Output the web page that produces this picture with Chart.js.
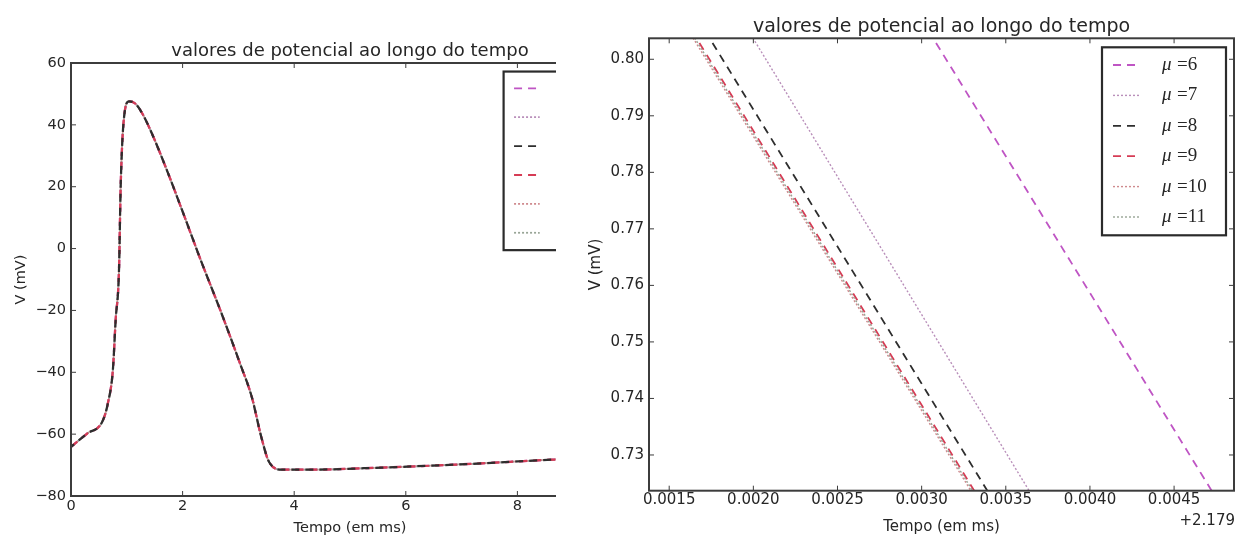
<!DOCTYPE html>
<html>
<head>
<meta charset="utf-8">
<script src="https://cdn.jsdelivr.net/npm/chart.js@4.4.1/dist/chart.umd.min.js"></script>
<style>
  html, body { margin: 0; padding: 0; background: #fff; }
  #wrap { position: relative; width: 1236px; height: 538px; overflow: hidden; }
  #leftClip { position: absolute; left: 0; top: 0; width: 556px; height: 538px; overflow: hidden; }
  #zoom { position: absolute; left: 556px; top: 0; }
</style>
</head>
<body>
<div id="wrap">
  <div id="leftClip"><canvas id="run" width="700" height="538"></canvas></div>
  <canvas id="zoom" width="680" height="538"></canvas>
</div>
<script>
(() => {
  'use strict'

  const muValues = [6, 7, 8, 9, 10, 11]
  const muColors = ['#bf55c4', '#b98fba', '#2e2e2e', '#d63c55', '#cf8a8e', '#97a495']
  const muDashes = [[8, 6], [2, 2], [8, 6], [8, 6], [2, 2], [2, 2]]
  const muWidths = [1.8, 1.4, 1.8, 1.8, 1.4, 1.4]

  // whole run (left panel): the six curves sit on top of each other
  const runTime = [0, 0.29, 0.56, 0.66, 0.75, 0.80, 0.86, 0.89, 0.94, 1.04, 1.15, 1.28, 1.45, 1.73, 2.07, 2.32, 2.69, 3.03, 3.24, 3.41, 3.55, 3.79, 4.2, 5.58, 6.95, 8.67, 10]
  const runVolt = [-64.1, -59.8, -56, -50.1, -39.3, -23.2, -7, 19.9, 40.4, 47.6, 46.9, 43.6, 37.2, 24.8, 8.6, -3.5, -20.6, -37.2, -48, -60.9, -69, -71.5, -71.5, -70.8, -69.8, -68.2, -67.3]
  const runXTicks = [0, 2, 4, 6, 8, 10]
  const runYTicks = [-80, -60, -40, -20, 0, 20, 40, 60]

  // zoom around t = 2.179 ms (right panel), times are offsets from it
  const timeOffset = 2.179
  const zoomVolt = [0.805, 0.722]
  const mu6Time = [0.003042, 0.004758]
  const mu7Time = [0.001972, 0.003673]
  const mu8Time = [0.001714, 0.003425]
  const mu9Time = [0.001636, 0.003347]
  const mu10Time = [0.001616, 0.003327]
  const mu11Time = [0.001626, 0.003337]
  const zoomXTicks = [0.0015, 0.002, 0.0025, 0.003, 0.0035, 0.004, 0.0045]
  const zoomYTicks = [0.73, 0.74, 0.75, 0.76, 0.77, 0.78, 0.79, 0.80]

  const titleText = 'valores de potencial ao longo do tempo'
  const ink = '#262626'

  Chart.defaults.font.family = '"DejaVu Sans", sans-serif'
  Chart.defaults.color = ink

  const frame = {
    id: 'frame',
    afterDatasetsDraw (chart) {
      const { ctx, chartArea: a, scales } = chart
      ctx.save()
      ctx.strokeStyle = '#3c3c3c'
      ctx.lineWidth = 1
      ctx.beginPath()
      scales.x.ticks.forEach(t => {
        const px = scales.x.getPixelForValue(t.value)
        ctx.moveTo(px, a.bottom); ctx.lineTo(px, a.bottom - 5)
        ctx.moveTo(px, a.top); ctx.lineTo(px, a.top + 5)
      })
      scales.y.ticks.forEach(t => {
        const py = scales.y.getPixelForValue(t.value)
        ctx.moveTo(a.left, py); ctx.lineTo(a.left + 5, py)
        ctx.moveTo(a.right, py); ctx.lineTo(a.right - 5, py)
      })
      ctx.stroke()
      ctx.lineWidth = 2
      ctx.strokeRect(a.left, a.top, a.right - a.left, a.bottom - a.top)
      ctx.restore()
    }
  }

  // matplotlib-like legend box in the upper right corner of the plot
  const boxLegend = {
    id: 'boxLegend',
    afterDraw (chart, args, opts) {
      const { ctx, chartArea: a } = chart
      const s = opts.scale
      const w = 124 * s
      const h = 188 * s
      const left = a.right - 8 * s - w
      const top = a.top + 9 * s
      ctx.save()
      ctx.fillStyle = '#fff'
      ctx.fillRect(left, top, w, h)
      ctx.lineWidth = 2.2
      ctx.strokeStyle = '#2b2b2b'
      ctx.strokeRect(left, top, w, h)
      chart.data.datasets.forEach((ds, i) => {
        const y = top + (17.7 + i * 30.4) * s
        ctx.setLineDash(ds.borderDash)
        ctx.strokeStyle = ds.borderColor
        ctx.lineWidth = Math.min(ds.borderWidth, 1.8)
        ctx.beginPath()
        ctx.moveTo(left + 11 * s, y)
        ctx.lineTo(left + 38 * s, y)
        ctx.stroke()
        ctx.setLineDash([])
        ctx.fillStyle = ink
        ctx.textBaseline = 'middle'
        ctx.textAlign = 'left'
        const sym = ds.label.charAt(0)
        const rest = ds.label.slice(1).trim()
        ctx.font = 'italic ' + (19 * s) + 'px "Liberation Serif"'
        ctx.fillText(sym, left + 60 * s, y)
        ctx.font = (19 * s) + 'px "Liberation Serif"'
        ctx.fillText(rest, left + 75 * s, y)
      })
      ctx.restore()
    }
  }

  const offsetText = {
    id: 'offsetText',
    afterDraw (chart, args, opts) {
      if (!opts.text) return
      const { ctx, chartArea: a } = chart
      ctx.save()
      ctx.fillStyle = ink
      ctx.font = '15px "DejaVu Sans"'
      ctx.textAlign = 'right'
      ctx.textBaseline = 'middle'
      ctx.fillText(opts.text, a.right + 1, a.bottom + 30)
      ctx.restore()
    }
  }

  function datasets (times, volts, cfg) {
    return muValues.map((mu, i) => ({
      label: '\u03bc =' + mu,
      data: times[i].map((t, k) => ({ x: t, y: volts[i][k] })),
      borderColor: muColors[i],
      borderDash: muDashes[i],
      borderDashOffset: cfg.dashOffsets[i],
      borderWidth: muWidths[i] * cfg.widthScale,
      pointRadius: 0,
      fill: false,
      cubicInterpolationMode: cfg.smooth ? 'monotone' : 'default',
      order: cfg.orders[i]
    }))
  }

  function makeChart (id, cfg) {
    return new Chart(document.getElementById(id), {
      type: 'line',
      data: { datasets: cfg.datasets },
      options: {
        responsive: false,
        animation: false,
        layout: { padding: cfg.padding },
        plugins: {
          legend: { display: false },
          tooltip: { enabled: false },
          title: {
            display: true,
            text: titleText,
            fullSize: false,
            color: ink,
            font: { size: cfg.titleSize, weight: 'normal' },
            padding: cfg.titlePad
          },
          boxLegend: { scale: cfg.legendScale },
          offsetText: { text: cfg.offsetText }
        },
        scales: {
          x: {
            type: 'linear',
            min: cfg.xMin,
            max: cfg.xMax,
            grid: { display: false, drawTicks: false },
            border: { display: false },
            afterBuildTicks: s => { s.ticks = cfg.xTicks.map(v => ({ value: v })) },
            afterFit: s => { s.height = cfg.xHeight },
            ticks: {
              autoSkip: false,
              maxRotation: 0,
              padding: cfg.xTickPad,
              font: { size: cfg.tickSize },
              callback: cfg.xFormat
            },
            title: {
              display: true,
              text: 'Tempo (em ms)',
              font: { size: cfg.tickSize },
              padding: { top: 0, bottom: cfg.xTitlePad }
            }
          },
          y: {
            type: 'linear',
            min: cfg.yMin,
            max: cfg.yMax,
            grid: { display: false, drawTicks: false },
            border: { display: false },
            afterBuildTicks: s => { s.ticks = cfg.yTicks.map(v => ({ value: v })) },
            afterFit: s => { s.width = cfg.yWidth },
            ticks: {
              autoSkip: false,
              padding: 5,
              font: { size: cfg.tickSize },
              callback: cfg.yFormat
            },
            title: {
              display: true,
              text: 'V (mV)',
              font: { size: cfg.tickSize },
              padding: { top: cfg.yTitlePad, bottom: 0 }
            }
          }
        }
      },
      plugins: [frame, boxLegend, offsetText]
    })
  }

  const minus = v => (v < 0 ? '\u2212' + Math.abs(v) : String(v))

  makeChart('run', {
    datasets: datasets(muValues.map(() => runTime), muValues.map(() => runVolt),
      { smooth: true, widthScale: 1.25, dashOffsets: [0, 0, 4, 0, 1, 3], orders: [5, 4, 0, 1, 3, 2] }),
    padding: { left: 0, right: 71, top: 0, bottom: 0 },
    titleSize: 18,
    titlePad: { top: 41, bottom: 0.4 },
    tickSize: 14.5,
    legendScale: 0.95,
    offsetText: '',
    xMin: 0,
    xMax: 10,
    yMin: -80,
    yMax: 60,
    xTicks: runXTicks,
    yTicks: runYTicks,
    xHeight: 42,
    yWidth: 71,
    xTickPad: 2,
    xTitlePad: 1.3,
    yTitlePad: 12.3,
    xFormat: v => minus(v),
    yFormat: v => minus(v)
  })

  makeChart('zoom', {
    datasets: datasets([mu6Time, mu7Time, mu8Time, mu9Time, mu10Time, mu11Time], muValues.map(() => zoomVolt),
      { smooth: false, widthScale: 1, dashOffsets: [0, 0, 0, 0, 0, 0], orders: [5, 4, 3, 2, 1, 0] }),
    padding: { left: 0, right: 2, top: 0, bottom: 0 },
    titleSize: 19,
    titlePad: { top: 15.3, bottom: 0.2 },
    tickSize: 15,
    legendScale: 1,
    offsetText: '+' + timeOffset,
    xMin: 0.00138,
    xMax: 0.004856,
    yMin: 0.72368,
    yMax: 0.80371,
    xTicks: zoomXTicks,
    yTicks: zoomYTicks,
    xHeight: 47.3,
    yWidth: 93,
    xTickPad: 0,
    xTitlePad: 2.3,
    yTitlePad: 31,
    xFormat: v => v.toFixed(4),
    yFormat: v => v.toFixed(2)
  })
})()
</script>
</body>
</html>
